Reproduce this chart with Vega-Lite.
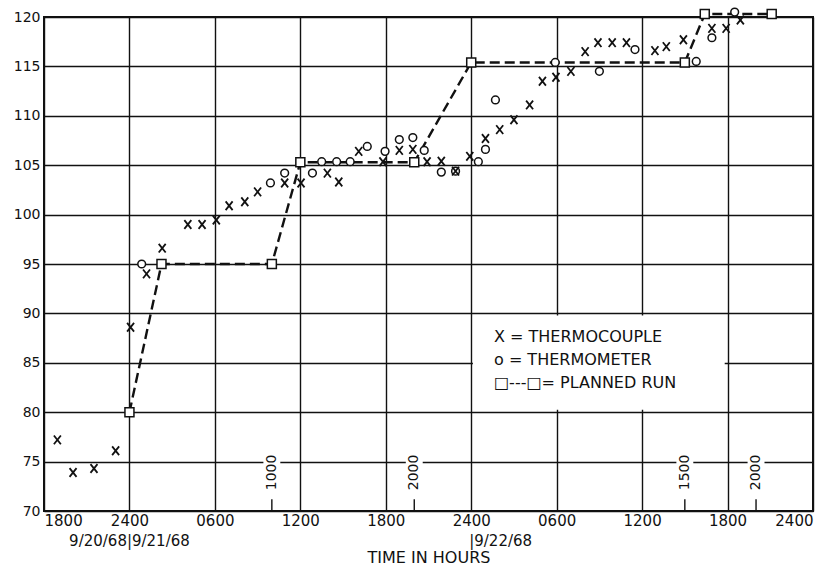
{
  "$schema": "https://vega.github.io/schema/vega-lite/v6.json",
  "width": 769,
  "height": 494,
  "autosize": {"type": "none"},
  "padding": {"left": 44, "top": 17, "right": 17, "bottom": 57},
  "background": "white",
  "config": {"view": {"stroke": "#111", "strokeWidth": 2}, "font": "DejaVu Sans"},
  "datasets": {
    "thermocouple": [
      {"t": 0.94, "v": 77.2}, {"t": 2.04, "v": 73.9}, {"t": 3.51, "v": 74.3}, {"t": 5.03, "v": 76.1},
      {"t": 6.08, "v": 88.6}, {"t": 7.2, "v": 94.0}, {"t": 8.3, "v": 96.6}, {"t": 10.1, "v": 99.0},
      {"t": 11.1, "v": 99.0}, {"t": 12.1, "v": 99.45}, {"t": 13.0, "v": 100.9}, {"t": 14.1, "v": 101.3},
      {"t": 15.0, "v": 102.3}, {"t": 16.9, "v": 103.2}, {"t": 18.05, "v": 103.2}, {"t": 19.9, "v": 104.2},
      {"t": 20.7, "v": 103.3}, {"t": 22.1, "v": 106.4}, {"t": 23.8, "v": 105.35}, {"t": 24.95, "v": 106.5},
      {"t": 25.9, "v": 106.6}, {"t": 26.9, "v": 105.35}, {"t": 27.9, "v": 105.4}, {"t": 28.9, "v": 104.4},
      {"t": 29.9, "v": 105.9}, {"t": 31.0, "v": 107.7}, {"t": 32.0, "v": 108.6}, {"t": 33.0, "v": 109.6},
      {"t": 34.1, "v": 111.1}, {"t": 35.0, "v": 113.5}, {"t": 35.95, "v": 113.9}, {"t": 37.0, "v": 114.5},
      {"t": 38.0, "v": 116.5}, {"t": 38.9, "v": 117.4}, {"t": 39.9, "v": 117.4}, {"t": 40.9, "v": 117.4},
      {"t": 42.9, "v": 116.6}, {"t": 43.7, "v": 117.0}, {"t": 44.9, "v": 117.7}, {"t": 46.9, "v": 118.85},
      {"t": 47.9, "v": 118.85}, {"t": 48.9, "v": 119.7}
    ],
    "thermometer": [
      {"t": 6.86, "v": 95.0}, {"t": 15.9, "v": 103.2}, {"t": 16.9, "v": 104.2}, {"t": 18.85, "v": 104.2},
      {"t": 19.5, "v": 105.35}, {"t": 20.55, "v": 105.35}, {"t": 21.5, "v": 105.35}, {"t": 22.7, "v": 106.9},
      {"t": 23.95, "v": 106.4}, {"t": 24.95, "v": 107.6}, {"t": 25.9, "v": 107.8}, {"t": 26.7, "v": 106.5},
      {"t": 27.9, "v": 104.3}, {"t": 28.9, "v": 104.4}, {"t": 30.5, "v": 105.35}, {"t": 31.0, "v": 106.6},
      {"t": 31.7, "v": 111.6}, {"t": 35.9, "v": 115.4}, {"t": 39.0, "v": 114.5}, {"t": 41.5, "v": 116.7},
      {"t": 45.8, "v": 115.5}, {"t": 46.9, "v": 117.9}, {"t": 48.5, "v": 120.5}
    ],
    "planned": [
      {"t": 6, "v": 80}, {"t": 8.25, "v": 95}, {"t": 16, "v": 95}, {"t": 18, "v": 105.3},
      {"t": 26, "v": 105.3}, {"t": 30, "v": 115.4}, {"t": 45, "v": 115.4}, {"t": 46.4, "v": 120.3},
      {"t": 51.1, "v": 120.3}
    ],
    "notes": [
      {"t": 16, "label": "1000"}, {"t": 26, "label": "2000"}, {"t": 45, "label": "1500"}, {"t": 50, "label": "2000"}
    ],
    "legend": [
      {"t": 31.6, "v": 87.64, "label": "X = THERMOCOUPLE"},
      {"t": 31.6, "v": 85.28, "label": "o = THERMOMETER"},
      {"t": 31.6, "v": 82.93, "label": "□---□= PLANNED RUN"}
    ]
  },
  "layer": [
    {
      "data": {"name": "planned"},
      "mark": {"type": "line", "stroke": "#111", "strokeWidth": 2.4, "strokeDash": [10, 5]},
      "encoding": {
        "x": {
          "field": "t", "type": "quantitative",
          "scale": {"domain": [0, 54], "nice": false, "zero": false},
          "axis": {
            "values": [0, 6, 12, 18, 24, 30, 36, 42, 48, 54],
            "labelExpr": "datum.value % 24 == 6 ? '2400' : datum.value % 24 == 12 ? '0600' : datum.value % 24 == 18 ? '1200' : '1800'",
            "grid": true, "gridColor": "#111", "gridWidth": 1.4, "gridOpacity": 1,
            "domain": false, "ticks": false, "labelOverlap": false,
            "labelFont": "DejaVu Sans", "labelFontSize": 15, "labelColor": "#111", "labelPadding": 2,
            "title": "TIME IN HOURS", "titleFont": "DejaVu Sans", "titleFontSize": 16, "titleFontWeight": "normal",
            "titleColor": "#111", "titlePadding": 21
          }
        },
        "y": {
          "field": "v", "type": "quantitative",
          "scale": {"domain": [70, 120], "nice": false, "zero": false},
          "axis": {
            "values": [70, 75, 80, 85, 90, 95, 100, 105, 110, 115, 120],
            "grid": true, "gridColor": "#111", "gridWidth": 1.4, "gridOpacity": 1,
            "domain": false, "ticks": false, "labelOverlap": false,
            "labelFont": "DejaVu Sans", "labelFontSize": 14, "labelColor": "#111", "labelPadding": 4,
            "title": null
          }
        }
      }
    },
    {
      "data": {"values": [{}]},
      "mark": {"type": "rect", "fill": "white"},
      "encoding": {
        "x": {"datum": 30.12, "type": "quantitative"},
        "x2": {"datum": 47.8},
        "y": {"datum": 80.25, "type": "quantitative"},
        "y2": {"datum": 89.8}
      }
    },
    {
      "data": {"name": "notes"},
      "mark": {"type": "point", "shape": "M-0.47,-1H0.47V1H-0.47Z", "filled": true, "fill": "white", "size": 1296, "opacity": 1, "strokeWidth": 0},
      "encoding": {
        "x": {"field": "t", "type": "quantitative"},
        "y": {"datum": 73.9, "type": "quantitative"}
      }
    },
    {
      "data": {"name": "notes"},
      "mark": {"type": "rule", "stroke": "#111", "strokeWidth": 1.4},
      "encoding": {
        "x": {"field": "t", "type": "quantitative"},
        "y": {"datum": 70, "type": "quantitative"},
        "y2": {"datum": 71.2}
      }
    },
    {
      "data": {"name": "notes"},
      "mark": {"type": "text", "angle": 270, "fontSize": 14, "font": "DejaVu Sans", "color": "#111", "align": "center", "baseline": "middle"},
      "encoding": {
        "x": {"field": "t", "type": "quantitative"},
        "y": {"datum": 73.9, "type": "quantitative"},
        "text": {"field": "label"}
      }
    },
    {
      "data": {"name": "thermometer"},
      "mark": {"type": "point", "shape": "circle", "filled": true, "fill": "white", "stroke": "#111", "strokeWidth": 1.5, "size": 60, "opacity": 1},
      "encoding": {
        "x": {"field": "t", "type": "quantitative"},
        "y": {"field": "v", "type": "quantitative"}
      }
    },
    {
      "data": {"name": "planned"},
      "mark": {"type": "point", "shape": "square", "filled": true, "fill": "white", "stroke": "#111", "strokeWidth": 1.5, "size": 81, "opacity": 1},
      "encoding": {
        "x": {"field": "t", "type": "quantitative"},
        "y": {"field": "v", "type": "quantitative"}
      }
    },
    {
      "data": {"name": "thermocouple"},
      "mark": {"type": "point", "shape": "M-0.8,-1L0.8,1M0.8,-1L-0.8,1", "filled": false, "stroke": "#111", "strokeWidth": 1.8, "size": 76, "opacity": 1},
      "encoding": {
        "x": {"field": "t", "type": "quantitative"},
        "y": {"field": "v", "type": "quantitative"}
      }
    },
    {
      "data": {"name": "legend"},
      "mark": {"type": "text", "fontSize": 16, "font": "DejaVu Sans", "color": "#111", "align": "left", "baseline": "middle"},
      "encoding": {
        "x": {"field": "t", "type": "quantitative"},
        "y": {"field": "v", "type": "quantitative"},
        "text": {"field": "label"}
      }
    },
    {
      "data": {"values": [{}]},
      "mark": {"type": "text", "fontSize": 15, "font": "DejaVu Sans", "color": "#111", "align": "center", "baseline": "middle"},
      "encoding": {
        "x": {"datum": 6, "type": "quantitative"},
        "y": {"datum": 66.96, "type": "quantitative"},
        "text": {"value": "9/20/68|9/21/68"}
      }
    },
    {
      "data": {"values": [{}]},
      "mark": {"type": "text", "fontSize": 15, "font": "DejaVu Sans", "color": "#111", "align": "left", "baseline": "middle", "dx": -2},
      "encoding": {
        "x": {"datum": 30, "type": "quantitative"},
        "y": {"datum": 66.96, "type": "quantitative"},
        "text": {"value": "|9/22/68"}
      }
    }
  ]
}
